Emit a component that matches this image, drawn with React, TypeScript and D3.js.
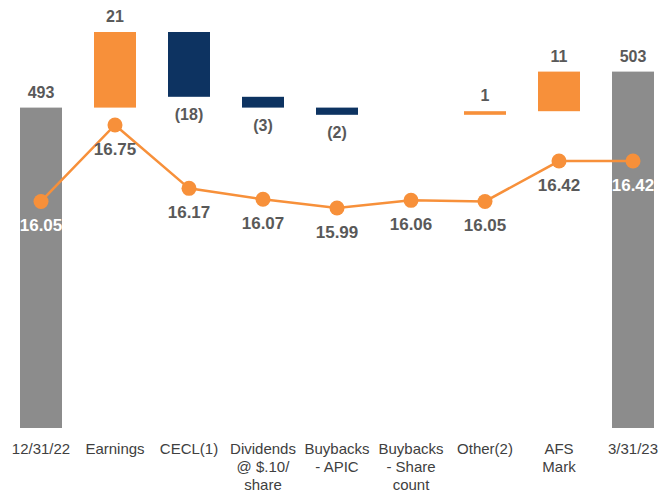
import React, { useEffect, useRef } from "react";
import * as d3 from "d3";

const categories = [
  "12/31/22",
  "Earnings",
  "CECL(1)",
  "Dividends @ $.10/ share",
  "Buybacks - APIC",
  "Buybacks - Share count",
  "Other(2)",
  "AFS Mark",
  "3/31/23",
];
const categoryLines = [
  ["12/31/22"],
  ["Earnings"],
  ["CECL(1)"],
  ["Dividends", "@ $.10/", "share"],
  ["Buybacks", "- APIC"],
  ["Buybacks", "- Share", "count"],
  ["Other(2)"],
  ["AFS", "Mark"],
  ["3/31/23"],
];
// bar values: totals for first/last, changes in between
const barValues = [493, 21, -18, -3, -2, 0, 1, 11, 503];
const barLabels = ["493", "21", "(18)", "(3)", "(2)", "", "1", "11", "503"];
const bookValue = [16.05, 16.75, 16.17, 16.07, 15.99, 16.06, 16.05, 16.42, 16.42];

const ORANGE = "#F7903A";
const NAVY = "#0D3361";
const GRAY = "#8C8C8C";
const TEXT = "#595959";
const FONT = "'Liberation Sans', Arial, sans-serif";

function App() {
  const ref = useRef<SVGSVGElement>(null);

  useEffect(() => {
    document.body.style.margin = "0";
    const width = 661,
      height = 498;
    const svg = d3.select(ref.current);
    svg.selectAll("*").remove();

    const x = d3.scalePoint<string>().domain(categories).range([41, 633]);
    const barW = 42;
    const y = d3.scaleLinear().domain([404, 520]).range([428, 10.4]);
    const yLine = d3.scaleLinear().domain([15.5, 17]).range([261.5, 97.7]);

    // waterfall steps
    let level = 0;
    const bars = barValues.map((v, i) => {
      const last = i === barValues.length - 1;
      if (i === 0 || last) {
        level = v;
        return { cat: categories[i], y0: 404, y1: v, kind: "total", label: barLabels[i], v };
      }
      const start = level;
      level += v;
      return {
        cat: categories[i],
        y0: Math.min(start, level),
        y1: Math.max(start, level),
        kind: v >= 0 ? "up" : "down",
        label: barLabels[i],
        v,
      };
    });

    const g = svg.append("g");

    g.selectAll("rect.bar")
      .data(bars.filter((d) => d.v !== 0))
      .enter()
      .append("rect")
      .attr("class", "bar")
      .attr("x", (d) => x(d.cat)! - barW / 2)
      .attr("width", barW)
      .attr("y", (d) => y(d.y1))
      .attr("height", (d) => Math.max(3, y(d.y0) - y(d.y1)))
      .attr("fill", (d) => (d.kind === "total" ? GRAY : d.kind === "up" ? ORANGE : NAVY));

    g.selectAll("text.barlabel")
      .data(bars.filter((d) => d.label))
      .enter()
      .append("text")
      .attr("class", "barlabel")
      .attr("x", (d) => x(d.cat)!)
      .attr("y", (d) => (d.kind === "down" ? y(d.y0) + 23 : y(d.y1) - 10))
      .attr("text-anchor", "middle")
      .attr("font-family", FONT)
      .attr("font-weight", "bold")
      .attr("font-size", 16)
      .attr("fill", TEXT)
      .text((d) => d.label);

    // book value per share line
    const line = d3
      .line<number>()
      .x((d, i) => x(categories[i])!)
      .y((d) => yLine(d));

    g.append("path")
      .datum(bookValue)
      .attr("d", line)
      .attr("fill", "none")
      .attr("stroke", ORANGE)
      .attr("stroke-width", 2.5);

    g.selectAll("circle.pt")
      .data(bookValue)
      .enter()
      .append("circle")
      .attr("class", "pt")
      .attr("cx", (d, i) => x(categories[i])!)
      .attr("cy", (d) => yLine(d))
      .attr("r", 7.5)
      .attr("fill", ORANGE);

    g.selectAll("text.ptlabel")
      .data(bookValue)
      .enter()
      .append("text")
      .attr("class", "ptlabel")
      .attr("x", (d, i) => x(categories[i])!)
      .attr("y", (d) => yLine(d) + 30)
      .attr("text-anchor", "middle")
      .attr("font-family", FONT)
      .attr("font-weight", "bold")
      .attr("font-size", 17)
      .attr("fill", (d, i) => (i === 0 || i === bookValue.length - 1 ? "#ffffff" : TEXT))
      .text((d) => d.toFixed(2));

    // category labels
    const cat = g
      .selectAll("text.cat")
      .data(categoryLines)
      .enter()
      .append("text")
      .attr("class", "cat")
      .attr("text-anchor", "middle")
      .attr("font-family", FONT)
      .attr("font-size", 15)
      .attr("fill", "#404040");

    cat
      .selectAll("tspan")
      .data((d, i) => d.map((s) => ({ s, i })))
      .enter()
      .append("tspan")
      .attr("x", (d) => x(categories[d.i])!)
      .attr("y", (d, j) => 454 + j * 18)
      .text((d) => d.s);

    svg.attr("width", width).attr("height", height);
  }, []);

  return <svg ref={ref} width={661} height={498} style={{ display: "block" }} />;
}

export default App;
